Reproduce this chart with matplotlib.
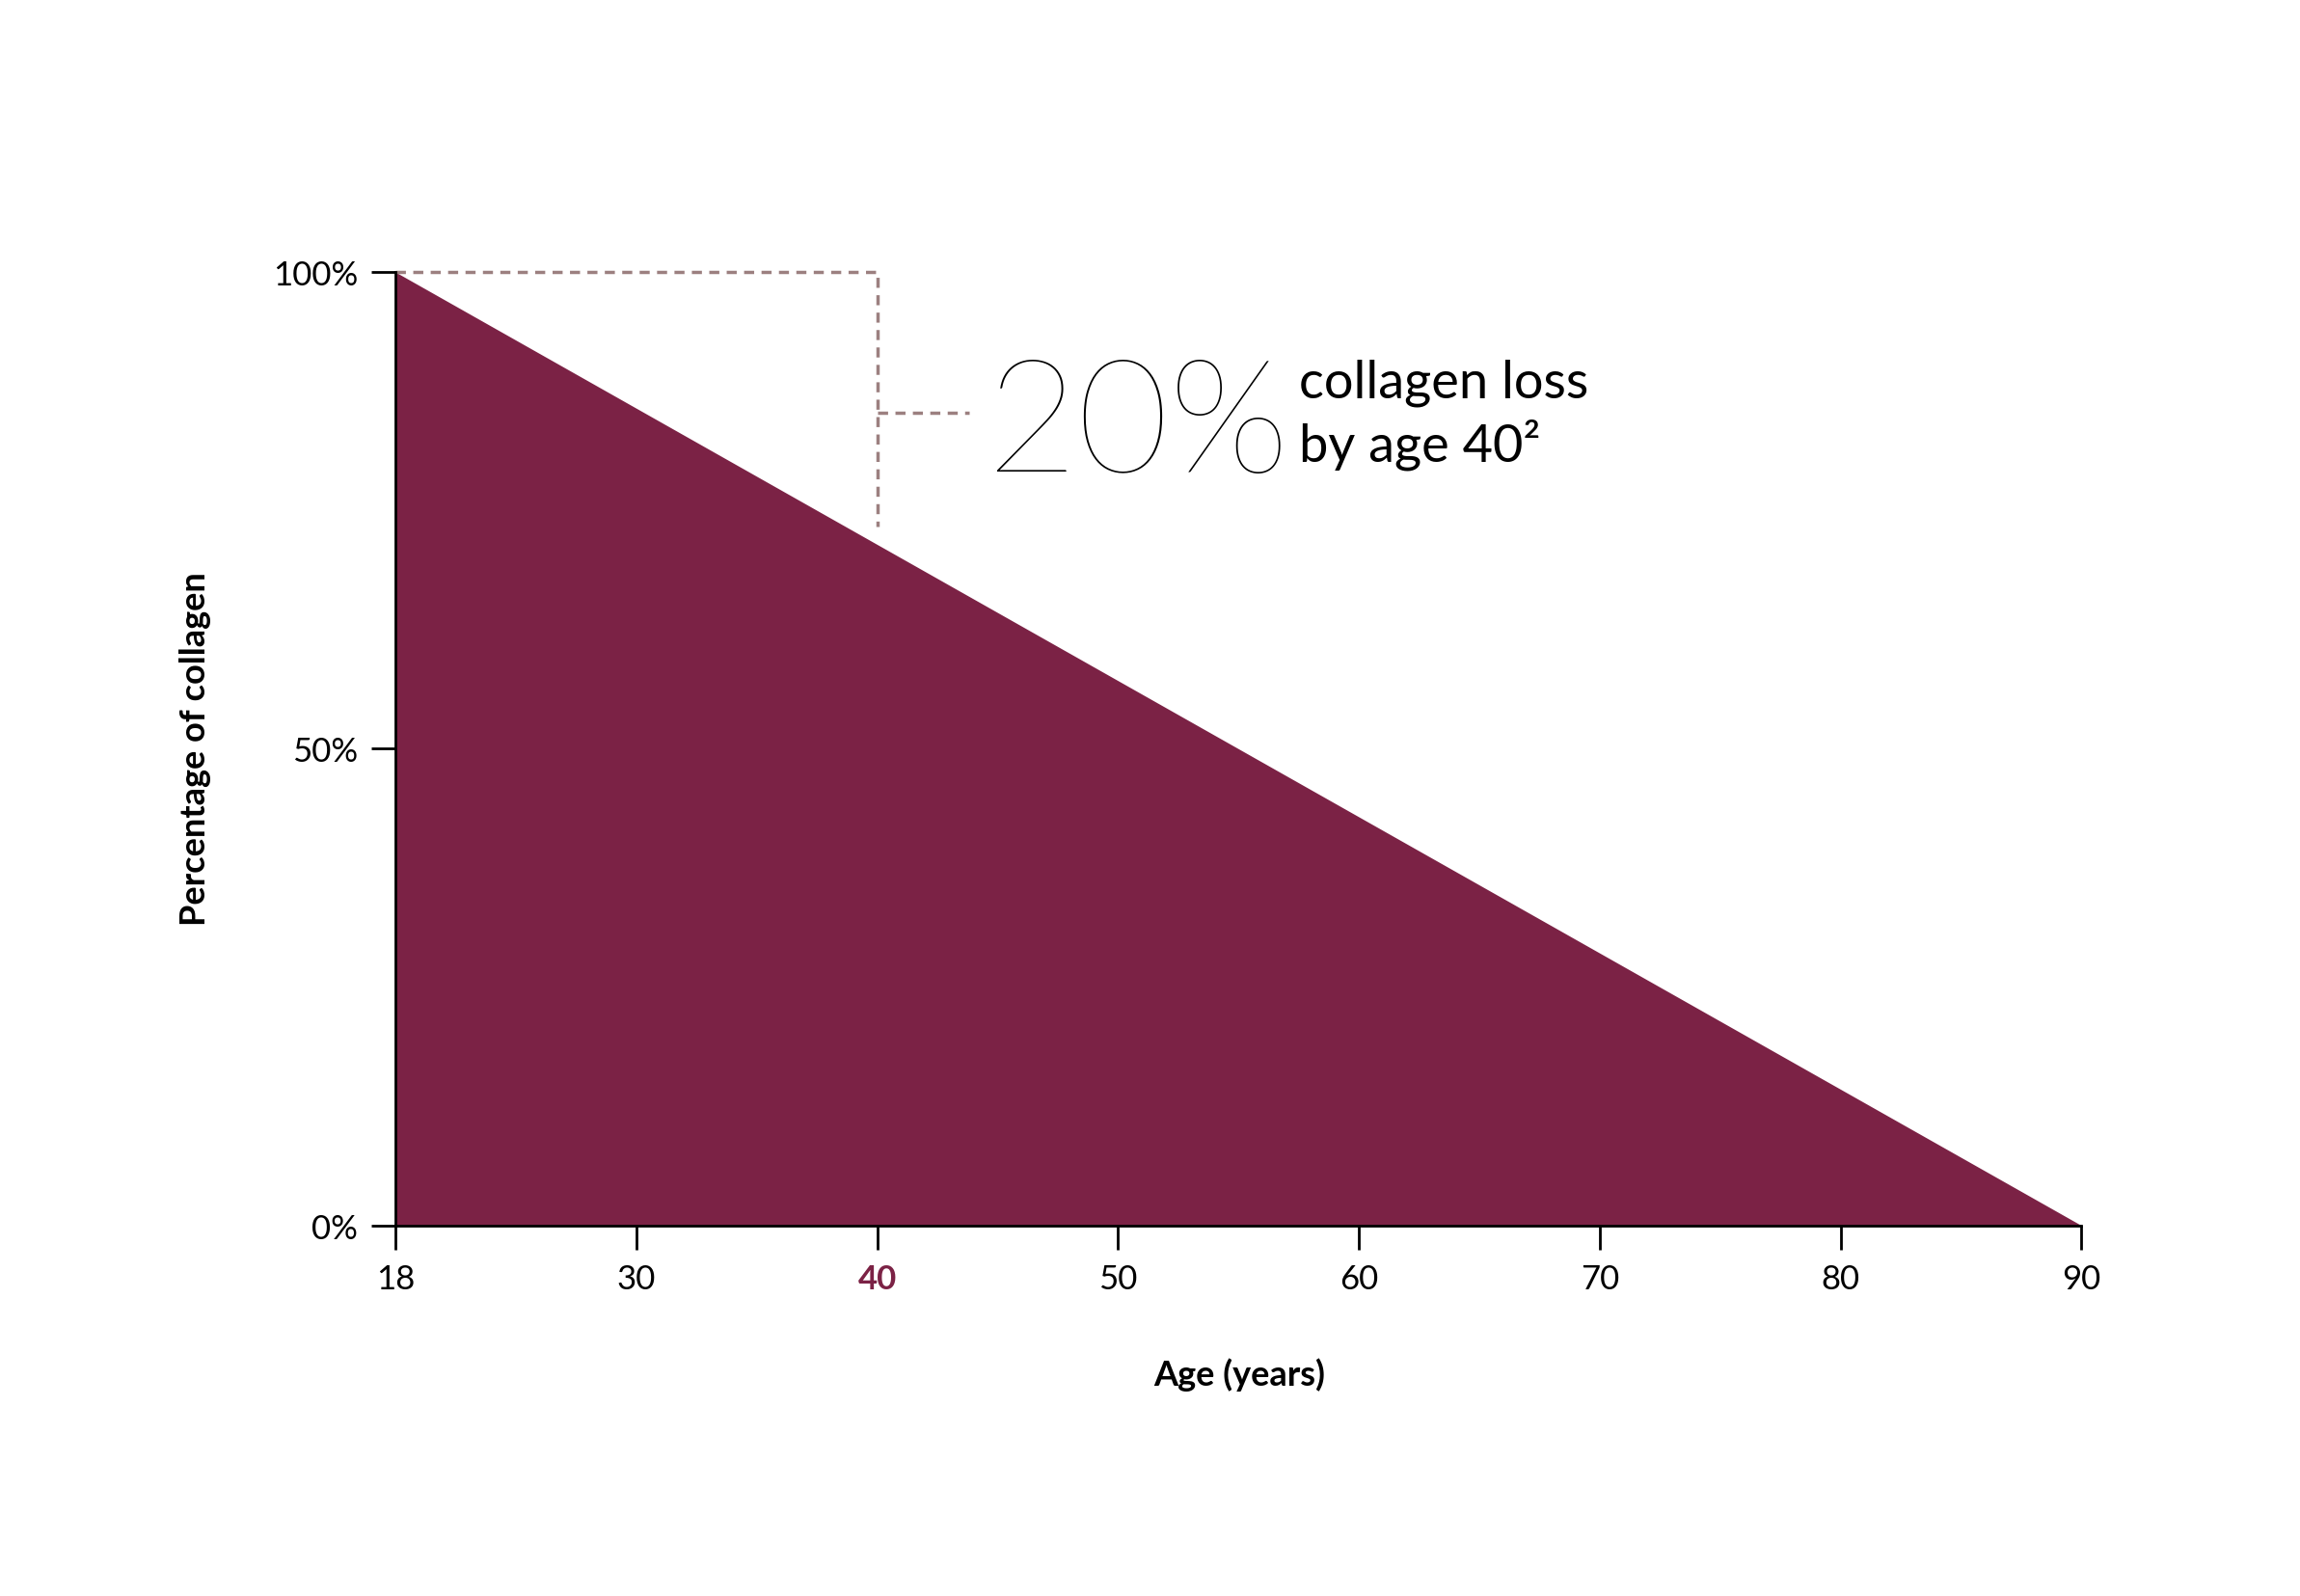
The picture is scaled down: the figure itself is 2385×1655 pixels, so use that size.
import matplotlib.pyplot as plt

# Data
ages = ['18', '30', '40', '50', '60', '70', '80', '90']
collagen = [100, 0]          # at first and last age
pct_ticks = [0, 50, 100]
pct_labels = ['0%', '50%', '100%']
loss_age_idx = 2             # age 40
dash_end = 73.3
callout_y = 85.3

plt.rcParams['font.family'] = ['Lato', 'DejaVu Sans']
wine = '#7b2245'
dash_col = '#9c8080'

fig = plt.figure(figsize=(23.85, 16.56), dpi=100)
ax = fig.add_axes([0.172, 0.232, 0.733, 0.597])
xs = [0, len(ages) - 1]
ax.fill_between(xs, collagen, 0, color=wine, lw=0)
ax.set_xlim(0, len(ages) - 1)
ax.set_ylim(0, 100)

ax.plot([0, loss_age_idx, loss_age_idx], [100, 100, dash_end], ls=(0, (3, 2.2)),
        color=dash_col, lw=2.5, clip_on=False)
ax.plot([loss_age_idx, 2.38], [callout_y, callout_y], ls=(0, (3, 2.2)),
        color=dash_col, lw=2.5, clip_on=False)

ax.text(2.45, 79.1, '20%', fontsize=118, fontweight='light', va='baseline', ha='left')
ax.text(3.75, 86.9, 'collagen loss', fontsize=39, va='baseline', ha='left')
ax.text(3.75, 80.2, 'by age 40²', fontsize=39, va='baseline', ha='left')

for s in ['top', 'right']:
    ax.spines[s].set_visible(False)
for s in ['left', 'bottom']:
    ax.spines[s].set_linewidth(2)
ax.set_xticks(range(len(ages)))
ax.set_xticklabels(ages)
ax.set_yticks(pct_ticks)
ax.set_yticklabels(pct_labels)
ax.tick_params(labelsize=25, width=2, length=18, pad=10)
lab = ax.get_xticklabels()[loss_age_idx]
lab.set_color(wine)
lab.set_fontweight('bold')

fig.text(0.539, 0.139, 'Age (years)', fontsize=26, fontweight='bold', ha='center', va='center')
fig.text(0.085, 0.531, 'Percentage of collagen', fontsize=26, fontweight='bold',
         rotation=90, ha='center', va='center')

fig.savefig('out.png', dpi=100, facecolor='white')
